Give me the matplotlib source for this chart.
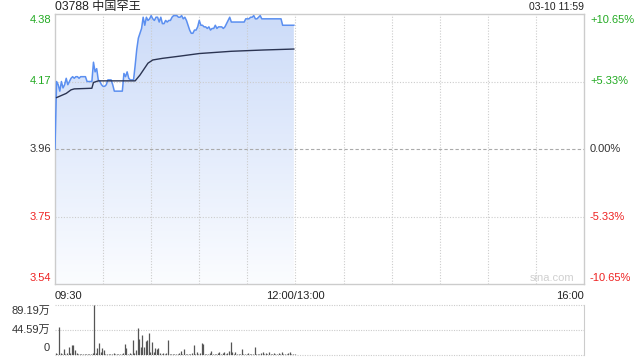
import numpy as np
import matplotlib
matplotlib.use("Agg")
import matplotlib.pyplot as plt
from matplotlib.colors import LinearSegmentedColormap

plt.rcParams['font.family'] = ['Liberation Sans', 'Noto Sans CJK SC', 'DejaVu Sans']

# minute-by-minute price, 09:30 .. 11:59
price = [3.96, 4.17, 4.16, 4.14, 4.17, 4.15, 4.16, 4.18, 4.16, 4.17,
         4.18, 4.185, 4.18, 4.185, 4.185, 4.18, 4.185, 4.185, 4.185, 4.185,
         4.17, 4.17, 4.17, 4.17, 4.23, 4.20, 4.21, 4.175, 4.17, 4.16,
         4.155, 4.155, 4.16, 4.175, 4.175, 4.175, 4.16, 4.14, 4.14, 4.14,
         4.14, 4.14, 4.14, 4.195, 4.185, 4.20, 4.18, 4.175, 4.175, 4.175,
         4.22, 4.27, 4.305, 4.32, 4.335, 4.37, 4.345, 4.37, 4.36, 4.365,
         4.375, 4.365, 4.36, 4.37, 4.37, 4.355, 4.37, 4.35, 4.35, 4.36,
         4.355, 4.36, 4.36, 4.37, 4.375, 4.375, 4.375, 4.37, 4.37, 4.375,
         4.365, 4.37, 4.36, 4.345, 4.33, 4.32, 4.32, 4.33, 4.33, 4.34,
         4.36, 4.345, 4.345, 4.34, 4.34, 4.335, 4.34, 4.33, 4.335, 4.335,
         4.345, 4.335, 4.34, 4.34, 4.34, 4.335, 4.34, 4.35, 4.36, 4.37,
         4.355, 4.355, 4.355, 4.355, 4.355, 4.355, 4.355, 4.355, 4.355, 4.365,
         4.365, 4.365, 4.37, 4.37, 4.375, 4.365, 4.365, 4.37, 4.375, 4.365,
         4.365, 4.365, 4.365, 4.365, 4.365, 4.365, 4.365, 4.365, 4.365, 4.365,
         4.365, 4.365, 4.345, 4.345, 4.345, 4.345, 4.345, 4.345, 4.345, 4.345]

# average price line, read at its turning points
avg_min = [1, 7, 10, 12, 23, 24, 27, 50, 53, 58, 61, 67, 78, 90, 110, 130, 149]
avg_val = [4.12, 4.133, 4.144, 4.147, 4.149, 4.167, 4.172, 4.172, 4.19, 4.227,
           4.237, 4.242, 4.249, 4.257, 4.264, 4.268, 4.271]

# volume per minute, in 万
volume = [3, 2, 50, 3, 2, 10, 2, 3, 15, 4,
          17, 18, 9, 3, 2, 1, 1, 1, 2, 1,
          2, 1, 2, 3, 89, 3, 13, 22, 5, 12,
          9, 2, 1, 2, 1, 2, 3, 2, 1, 2,
          1, 1, 3, 19, 12, 2, 3, 1, 26, 3,
          9, 48, 29, 14, 36, 14, 25, 27, 39, 5,
          23, 6, 13, 10, 12, 4, 2, 3, 2, 3,
          27, 2, 1, 2, 1, 1, 2, 3, 7, 2,
          11, 2, 1, 1, 2, 4, 18, 2, 6, 2,
          3, 21, 20, 2, 1, 2, 3, 8, 2, 1,
          2, 3, 6, 2, 3, 5, 2, 3, 7, 24,
          5, 2, 6, 2, 1, 2, 11, 2, 1, 2,
          3, 2, 1, 2, 14, 2, 1, 2, 3, 5,
          2, 4, 2, 5, 1, 2, 3, 2, 1, 3,
          2, 5, 2, 1, 2, 3, 6, 2, 1, 2]

prev_close = 3.96
price_ticks = [4.38, 4.17, 3.96, 3.75, 3.54]
pct_labels = ['+10.65%', '+5.33%', '0.00%', '-5.33%', '-10.65%']
tick_colors = ['#22aa22', '#22aa22', '#333333', '#ee2222', '#ee2222']
vol_ticks = [89.19, 44.59, 0]
vol_labels = ['89.19万', '44.59万', '0']

minutes = np.arange(len(price))
grid_x = np.arange(30, 330, 30)

fig = plt.figure(figsize=(6.4, 3.6), dpi=100)
ax = fig.add_axes([55/640, 1-284/360, 529/640, 270/360])
axv = fig.add_axes([55/640, 1-355/360, 529/640, 50/360])

ax.set_xlim(0, 330)
ax.set_ylim(3.54, 4.38)

# gradient fill under the price line
cmap = LinearSegmentedColormap.from_list('g', [(0.985, 0.99, 1.0), (0.80, 0.86, 0.975)])
grad = np.linspace(0, 1, 256).reshape(-1, 1)
poly = ax.fill_between(minutes, price, 3.54, color='none', lw=0)
img = ax.imshow(grad, cmap=cmap, aspect='auto', origin='lower',
                extent=[0, 330, 3.54, 4.38], zorder=1)
img.set_clip_path(poly.get_paths()[0], transform=ax.transData)

for gx in grid_x:
    ax.axvline(gx, color='#cccccc', lw=0.8, ls=(0, (1, 1.5)), zorder=2)
for t in [4.17, 3.75]:
    ax.axhline(t, color='#cccccc', lw=0.8, ls=(0, (1, 1.5)), zorder=2)
ax.axhline(prev_close, color='#aaaaaa', lw=0.8, ls=(0, (3, 2)), zorder=2)

ax.plot(minutes, price, color='#5b8ff0', lw=1.1, zorder=4)
ax.plot(avg_min, avg_val, color='#2b3452', lw=1.0, zorder=4)

ax.set_xticks([])
ax.set_yticks([])
for s in ax.spines.values():
    s.set_color('#cccccc')
    s.set_linewidth(1.0)

# price labels on both sides
for t, pl, c in zip(price_ticks, pct_labels, tick_colors):
    off = 0
    if t == 4.38:
        off = -6
    elif t == 3.54:
        off = 6
    ax.annotate(f'{t:.2f}', (0, t), xycoords=('axes fraction', 'data'),
                xytext=(-4, off), textcoords='offset pixels',
                ha='right', va='center', color=c, fontsize=8)
    ax.annotate(pl, (1, t), xycoords=('axes fraction', 'data'),
                xytext=(6, off), textcoords='offset pixels',
                ha='left', va='center', color=c, fontsize=8)

ax.annotate('03788 中国罕王', (0, 1), xycoords='axes fraction',
            xytext=(0, 7), textcoords='offset pixels', ha='left',
            va='center', fontsize=8.7, color='#222222')
ax.annotate('03-10 11:59', (1, 1), xycoords='axes fraction',
            xytext=(0, 7), textcoords='offset pixels', ha='right',
            va='center', fontsize=7.5, color='#222222')
ax.text(0, -0.025, '09:30', transform=ax.transAxes, ha='left', va='top',
        fontsize=8, color='#222222')
ax.text(150/330, -0.025, '12:00/13:00', transform=ax.transAxes, ha='center',
        va='top', fontsize=8, color='#222222')
ax.text(1, -0.025, '16:00', transform=ax.transAxes, ha='right', va='top',
        fontsize=8, color='#222222')
ax.annotate('sina.com', (0.94, 0), xycoords='axes fraction',
            xytext=(0, 6), textcoords='offset pixels', ha='center',
            va='center', fontsize=8, color='#d0d0d0')

# volume panel
axv.set_xlim(0, 330)
axv.set_ylim(0, 89.19)
axv.vlines(minutes + 0.5, 0, volume, color='#555555', lw=0.9, zorder=3)
for t in [89.19, 44.59, 0]:
    axv.axhline(t, color='#cccccc', lw=0.8, ls=(0, (1, 1.2)), zorder=1, clip_on=False)
axv.set_xticks([])
axv.set_yticks([])
for k, s in axv.spines.items():
    s.set_visible(k == 'right')
    s.set_color('#cccccc')
for t, lab in zip(vol_ticks, vol_labels):
    off = 0
    if t == 89.19:
        off = -6
    elif t == 0:
        off = 7
    axv.annotate(lab, (0, t), xycoords=('axes fraction', 'data'),
                 xytext=(-5, off), textcoords='offset pixels',
                 ha='right', va='center', color='#333333', fontsize=8)

fig.savefig('out.png', dpi=100)
